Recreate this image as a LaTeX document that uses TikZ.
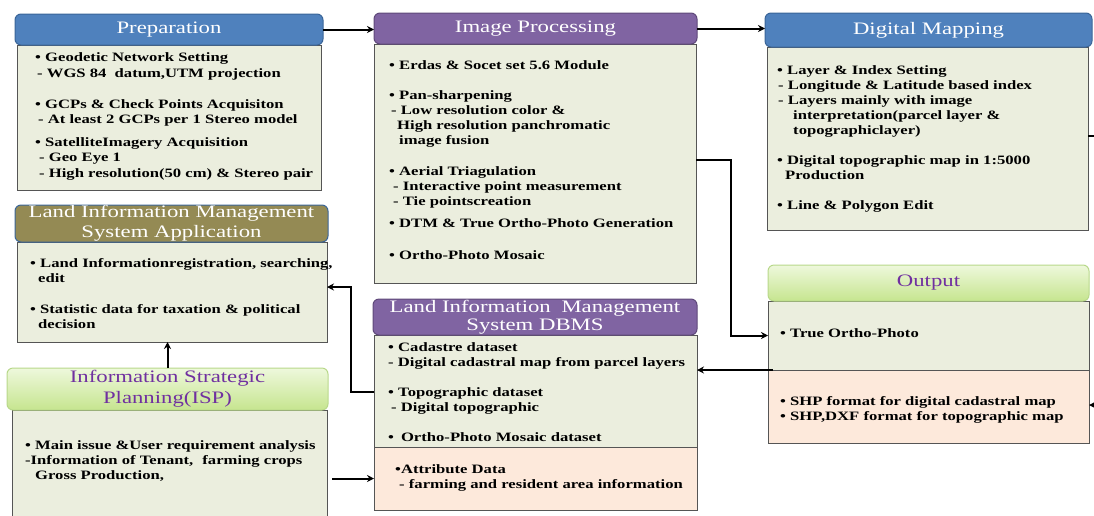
\documentclass[tikz,border=0pt]{standalone}
\usepackage{fontspec}
\setmainfont{Liberation Serif}[FakeStretch=1.3]
\usetikzlibrary{arrows.meta,calc}
\definecolor{hblue}{HTML}{4F81BD}
\definecolor{hblueline}{HTML}{3A6598}
\definecolor{hpurple}{HTML}{8064A2}
\definecolor{hpurpleline}{HTML}{5F497A}
\definecolor{holive}{HTML}{948A54}
\definecolor{hgreentop}{HTML}{EEF8DC}
\definecolor{hgreenbot}{HTML}{C6E58F}
\definecolor{hgreenline}{HTML}{B8D88A}
\definecolor{tpurple}{HTML}{7030A0}
\definecolor{bodyfill}{HTML}{EBEEDE}
\definecolor{pinkfill}{HTML}{FDE9DB}
\definecolor{bodyline}{HTML}{555555}
\begin{document}
\begin{tikzpicture}[x=1pt,y=-1pt,
  hdr/.style={rounded corners=6pt, line width=1pt, inner sep=0pt, outer sep=0pt,
    align=center, anchor=north west, font=\fontsize{17.5}{19}\selectfont},
  bluehdr/.style={hdr, draw=hblueline, fill=hblue, text=white},
  purplehdr/.style={hdr, draw=hpurpleline, fill=hpurple, text=white},
  olivehdr/.style={hdr, draw=hblueline, fill=holive, text=white},
  greenhdr/.style={hdr, draw=hgreenline, top color=hgreentop, bottom color=hgreenbot, text=tpurple},
  body/.style={draw=bodyline, fill=bodyfill, line width=0.9pt, inner sep=0pt, outer sep=0pt, anchor=north west},
  pinkbody/.style={body, fill=pinkfill},
  txt/.style={anchor=north west, align=left, inner sep=0pt,
    font=\fontsize{12.8}{15}\selectfont\bfseries},
  arr/.style={line width=2pt, -{Stealth[length=7pt,width=7pt]}}
]
\useasboundingbox (0,0) rectangle (1094,515);

% ---------- Preparation ----------
\node[body, minimum width=304pt, minimum height=145pt] (prepB) at (17,45) {};
\node[bluehdr, minimum width=308pt, minimum height=31pt] (prepH) at (15,14) {Preparation};
\node[txt] (p1) at (35,52) {• Geodetic Network Setting\\[1pt] \hspace{2pt}- WGS 84\hspace{4pt} datum,UTM projection};
\node[txt] (p2) at (35,99) {• GCPs \& Check Points Acquisiton\\ \hspace{3pt}- At least 2 GCPs per 1 Stereo model};
\node[txt] (p3) at (35,137) {• SatelliteImagery Acquisition\\ \hspace{4pt}- Geo Eye 1\\[1pt] \hspace{4pt}- High resolution(50 cm) \& Stereo pair};

% ---------- Image Processing ----------
\node[body, minimum width=322pt, minimum height=239pt] (ipB) at (374,44) {};
\node[purplehdr, minimum width=323pt, minimum height=31pt] (ipH) at (374,13) {Image Processing};
\node[txt] (i1) at (389,60) {• Erdas \& Socet set 5.6 Module};
\node[txt] (i2) at (389,90) {• Pan-sharpening\\ \hspace{2pt}- Low resolution color \&\\ \hspace{8pt}High resolution panchromatic\\ \hspace{10pt}image fusion};
\node[txt] (i3) at (389,166) {• Aerial Triagulation\\ \hspace{4pt}- Interactive point measurement\\ \hspace{4pt}- Tie pointscreation};
\node[txt] (i4) at (389,218) {• DTM \& True Ortho-Photo Generation};
\node[txt] (i5) at (389,250) {• Ortho-Photo Mosaic};

% ---------- Digital Mapping ----------
\node[body, minimum width=321pt, minimum height=183pt] (dmB) at (767,47) {};
\node[bluehdr, minimum width=327pt, minimum height=34pt] (dmH) at (765,13) {Digital Mapping};
\node[txt] (d1) at (777,65) {• Layer \& Index Setting\\ \hspace{1pt}- Longitude \& Latitude based index\\ \hspace{1pt}- Layers mainly with image\\ \hspace{16pt}interpretation(parcel layer \&\\ \hspace{16pt}topographiclayer)};
\node[txt] (d2) at (777,155) {• Digital topographic map in 1:5000\\ \hspace{8pt}Production};
\node[txt] (d3) at (777,200) {• Line \& Polygon Edit};

% ---------- LIMS Application ----------
\node[body, minimum width=310pt, minimum height=100pt] (limsB) at (17,242) {};
\node[olivehdr, minimum width=313pt, minimum height=37pt] (limsH) at (15,205) {Land Information Management\\[1pt] System Application};
\node[txt] (l1) at (30,258) {• Land Informationregistration, searching,\\ \hspace{8pt}edit};
\node[txt] (l2) at (30,304) {• Statistic data for taxation \& political\\ \hspace{8pt}decision};

% ---------- ISP ----------
\node[body, minimum width=315pt, minimum height=115pt] (ispB) at (12,410) {};
\node[greenhdr, minimum width=321pt, minimum height=42pt] (ispH) at (7,368) {Information Strategic\\[2pt] Planning(ISP)};
\node[txt] (s1) at (25,440) {• Main issue \&User requirement analysis\\ -Information of Tenant,\hspace{5pt} farming crops\\ \hspace{10pt}Gross Production,};

% ---------- DBMS ----------
\node[body, minimum width=323pt, minimum height=112pt] (dbB) at (374,335) {};
\node[pinkbody, minimum width=323pt, minimum height=63pt] (dbA) at (374,447) {};
\node[purplehdr, minimum width=324pt, minimum height=36pt] (dbH) at (373,299) {Land Information\hspace{5pt} Management\\[-1pt] System DBMS};
\node[txt] (b1) at (388,342) {• Cadastre dataset\\ - Digital cadastral map from parcel layers};
\node[txt] (b2) at (388,387) {• Topographic dataset\\ \hspace{3pt}- Digital topographic};
\node[txt] (b3) at (388,432) {•\hspace{7pt}Ortho-Photo Mosaic dataset};
\node[txt] (b4) at (395,464) {•Attribute Data\\ \hspace{4pt}- farming and resident area information};

% ---------- Output ----------
\node[body, minimum width=321pt, minimum height=69pt] (outB) at (768,301) {};
\node[pinkbody, minimum width=321pt, minimum height=73pt] (outA) at (768,370) {};
\node[greenhdr, minimum width=321pt, minimum height=36pt] (outH) at (768,265) {Output};
\node[txt] (o1) at (780,328) {• True Ortho-Photo};
\node[txt] (o2) at (780,396) {• SHP format for digital cadastral map\\ • SHP,DXF format for topographic map};

% ---------- Connectors ----------
\draw[arr] (prepH.east) -- (prepH.east -| ipH.west);
\draw[arr] (ipH.east) -- (ipH.east -| dmH.west);
\draw[arr] ([yshift=3.5pt]ipB.east) -- ++(35,0) |- (outB.west);
\draw[arr] ([xshift=5pt]outA.north west) -- (outA.north west -| dbB.east);
\draw[arr] ([yshift=-1pt]dbB.west) -- ++(-23,0) |- ([yshift=5pt]limsB.east);
\draw[arr] (ispH.north) -- (ispH.north |- limsB.south);
\draw[arr] ([xshift=5pt]dbA.west -| ispB.east) -- (dbA.west);
\draw[arr] ([yshift=2.5pt]dmB.east) -- ++(14,0) |- ([yshift=1.5pt]outA.east);
\end{tikzpicture}
\end{document}
